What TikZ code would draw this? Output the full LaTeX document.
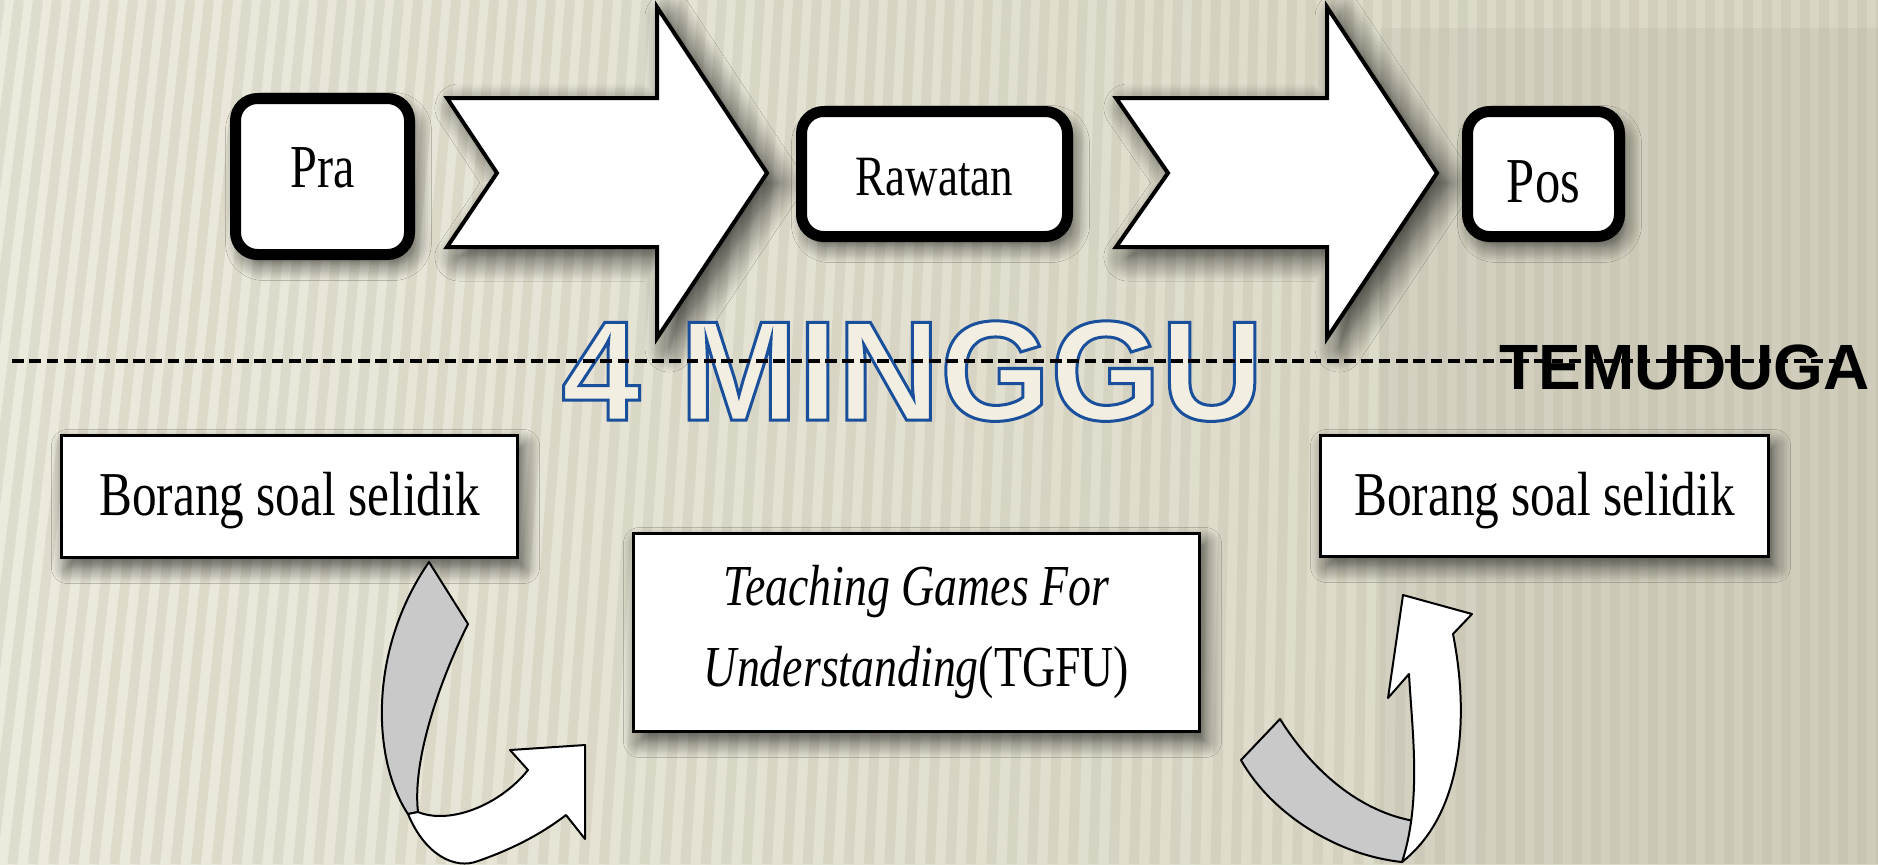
\documentclass[tikz,border=0pt]{standalone}
\usepackage{fontspec}
\setmainfont{Liberation Serif}
\newfontfamily\serifc[FakeStretch=0.79]{Liberation Serif}
\newfontfamily\sansf{Liberation Sans}
\usetikzlibrary{shadows.blur}
\definecolor{bgL}{HTML}{ECEADD}
\definecolor{bgM}{HTML}{E6E4D4}
\definecolor{bgR}{HTML}{D8D5C3}
\definecolor{stripec}{HTML}{B8B49E}
\definecolor{tblue}{HTML}{1A4F9C}
\definecolor{tcream}{HTML}{F2EFE2}
\definecolor{cgray}{HTML}{C9C9C9}
\newcommand\outlinedtext[1]{\textcolor{tcream}{\special{pdf:literal direct 2 Tr 0.102 0.310 0.612 RG 1.5 w}#1\special{pdf:literal direct 0 Tr}}}
\begin{document}
\begin{tikzpicture}[x=0.5pt,y=-0.5pt,
  shad/.style={blur shadow={shadow xshift=3pt,shadow yshift=-5pt,shadow blur radius=8pt,shadow opacity=65,shadow blur steps=10}},
  ashad/.style={blur shadow={shadow xshift=6pt,shadow yshift=-5pt,shadow blur radius=12pt,shadow opacity=75,shadow blur steps=12}},
  rbox/.style={draw=black, line width=5.5pt, rounded corners=11pt, fill=white, inner sep=0pt,
    text height=0pt, text depth=0pt, shad},
  sbox/.style={draw=black, line width=1.5pt, fill=white, inner sep=0pt, shad},
  bigarrow/.style={draw=black, line width=2pt, fill=white, line join=miter, ashad},
  carrow/.style={draw=black, line width=1pt, line join=round},
  stripe/.style={draw=stripec, line width=5pt, opacity=0.25},
  dashline/.style={draw=black, line width=2pt, dash pattern=on 5.85pt off 2.8pt}
]
\useasboundingbox (0,0) rectangle (1878,864);
% background
\shade[left color=bgL, middle color=bgM, right color=bgR] (0,0) rectangle (1878,864);
\fill[black, opacity=0.04] (1380,28) rectangle (1878,864);
\begin{scope}
\clip (0,0) rectangle (1878,864);
\foreach \k in {-5,...,100}{
  \pgfmathsetmacro\xt{\k*19}
  \pgfmathsetmacro\sl{max(0,110*(1-\xt/1500))}
  \draw[stripe] (\xt,0) -- (\xt-\sl,864);
}
\end{scope}
% big arrows
\draw[bigarrow] (447,98) -- (657,98) -- (657,7) -- (767,173) -- (657,338) -- (657,247) -- (447,247) -- (497,173) -- cycle;
\draw[bigarrow] (1116,98) -- (1327,98) -- (1327,7) -- (1437,173) -- (1327,338) -- (1327,247) -- (1116,247) -- (1168,173) -- cycle;
% top boxes
\node[rbox, minimum width=87pt, minimum height=78pt, font=\serifc\fontsize{30.5}{30.5}\selectfont] (pra) at (322.5,176.5) {\raisebox{-5.25pt}{Pra}};
\node[rbox, minimum width=133pt, minimum height=62.5pt, font=\serifc\fontsize{28.5}{28.5}\selectfont] (raw) at (934.5,174) {\raisebox{-10.5pt}{Rawatan}};
\node[rbox, minimum width=76pt, minimum height=62.5pt, font=\serifc\fontsize{32}{32}\selectfont] (pos) at (1543.5,174) {\raisebox{-14pt}{Pos}};
% bottom boxes
\node[sbox, minimum width=228pt, minimum height=61pt, text height=0pt, text depth=0pt, font=\serifc\fontsize{31.2}{31.2}\selectfont] (b1) at (289.5,496.5) {\raisebox{-9.5pt}{Borang soal selidik}};
\node[sbox, minimum width=224pt, minimum height=60.5pt, text height=0pt, text depth=0pt, font=\serifc\fontsize{31.2}{31.2}\selectfont] (b2) at (1544.5,496) {\raisebox{-9.5pt}{Borang soal selidik}};
\node[sbox, minimum width=283pt, minimum height=99pt, align=center, font=\serifc\fontsize{29}{40.5}\selectfont] (tg) at (916.5,632.5) {\textit{Teaching Games For}\\\textit{Understanding}(TGFU)};
% curved arrows
\draw[carrow, fill=cgray] (429,562) -- (468,624) .. controls (440,680) and (412,760) .. (418,812) -- (408,814) .. controls (372,760) and (368,650) .. (429,562) -- cycle;
\draw[carrow, fill=white] (408,814) .. controls (425,855) and (455,870) .. (478,861) .. controls (510,850) and (540,835) .. (566,815) -- (585,839) -- (585,745) -- (510,750) -- (528,770) .. controls (500,805) and (450,825) .. (418,812) -- cycle;
\draw[carrow, fill=cgray] (1280,719) .. controls (1315,775) and (1365,815) .. (1421,822) -- (1402,862) .. controls (1335,855) and (1270,812) .. (1241,760) -- cycle;
\draw[carrow, fill=white] (1402,862) .. controls (1422,800) and (1412,730) .. (1409,674) -- (1388,698) -- (1403,595) -- (1472,614) -- (1453,634) .. controls (1470,720) and (1462,815) .. (1402,862) -- cycle;
% texts
\node[anchor=base, inner sep=0pt, font=\sansf\bfseries\fontsize{71}{71}\selectfont] (minggu) at (912.5,420) {\outlinedtext{4 MINGGU}};
\node[anchor=base, inner sep=0pt, font=\sansf\bfseries\fontsize{32}{32}\selectfont] (temu) at (1684.5,389) {TEMUDUGA};
% dashed line
\coordinate (dl) at (12,361);
\coordinate (dr) at (1835,361);
\draw[dashline] (dl) -- (dr);
\end{tikzpicture}
\end{document}
